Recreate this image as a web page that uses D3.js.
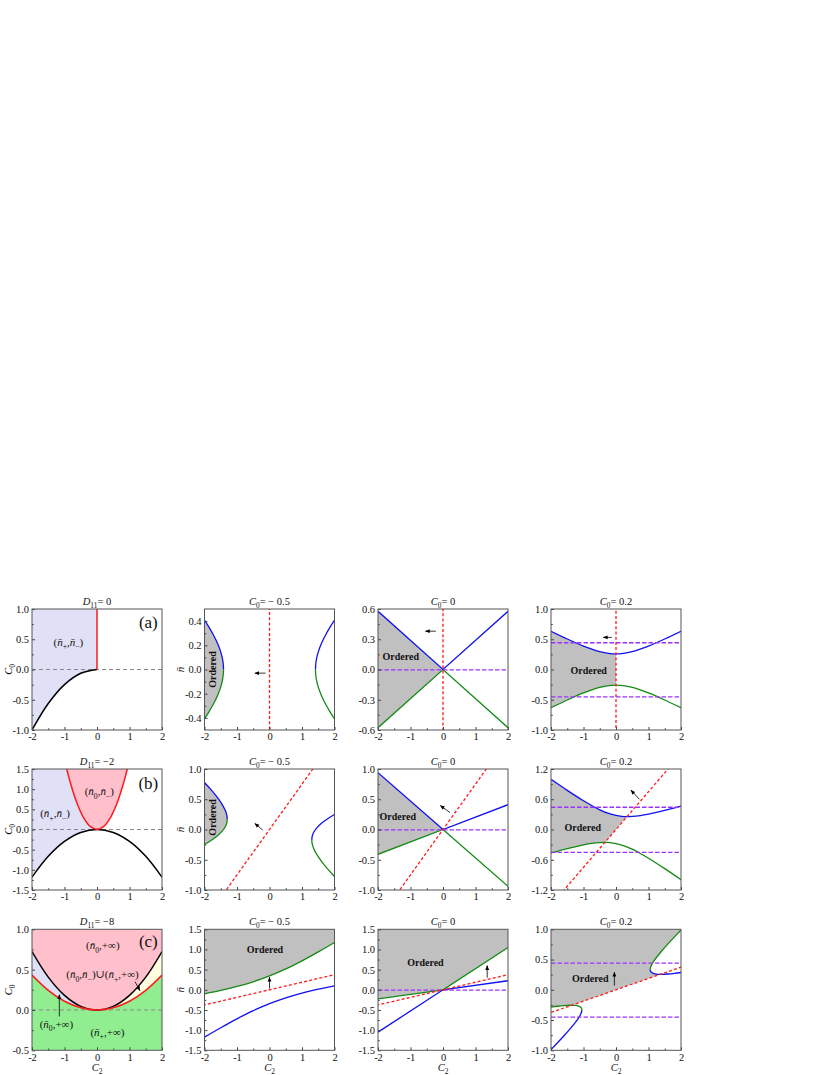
<!DOCTYPE html>
<html>
<head>
<meta charset="utf-8">
<script src="https://cdn.jsdelivr.net/npm/d3@7"></script>
<style>
  body { margin: 0; background: #fff; }
  svg { display: block; font-family: "Liberation Serif", "Times New Roman", "DejaVu Serif", serif; }
</style>
</head>
<body>
<svg id="fig" width="830" height="1075"></svg>
<script>
// ---- layout ----
const W = 130, H = 121;
const colX = [32, 204.5, 378, 551];
const rowY = [609, 769, 929.3];
const SERIF = '"Liberation Serif", "Times New Roman", "DejaVu Serif", serif';

// ---- shared axis values ----
const c2Ticks = [-2, -1, 0, 1, 2];
const c2Minor = [-1.5, -0.5, 0.5, 1.5];

// ---- left column: phase diagrams (C2, C0) ----
// (a) D11 = 0
const a_black = [[-2, -1], [-1.5, -0.5625], [-1, -0.25], [-0.5, -0.0625], [0, 0]];
const a_red = [[0, 0], [0, 1]];
// (b) D11 = -2
const b_black = [[-2, -1.182], [-1.5, -0.665], [-1, -0.296], [-0.5, -0.074], [0, 0], [0.5, -0.074], [1, -0.296], [1.5, -0.665], [2, -1.182]];
const b_red = [[-0.95, 1.556], [-0.8, 1.103], [-0.6, 0.621], [-0.4, 0.276], [-0.2, 0.069], [0, 0], [0.2, 0.069], [0.4, 0.276], [0.6, 0.621], [0.8, 1.103], [0.95, 1.556]];
// (c) D11 = -8
const c_black = [[-2, 0.724], [-1.5, 0.407], [-1, 0.181], [-0.5, 0.045], [0, 0], [0.5, 0.045], [1, 0.181], [1.5, 0.407], [2, 0.724]];
const c_red = [[-2, 0.432], [-1.5, 0.243], [-1, 0.108], [-0.5, 0.027], [0, 0], [0.5, 0.027], [1, 0.108], [1.5, 0.243], [2, 0.432]];

// ---- n-bar panels, row 1 (D11 = 0) ----
const r1c2_blueL = [[-2, 0.408], [-1.863, 0.35], [-1.755, 0.3], [-1.658, 0.25], [-1.575, 0.2], [-1.507, 0.15], [-1.456, 0.1], [-1.425, 0.05], [-1.414, 0]];
const r1c2_greenL = [[-1.414, 0], [-1.425, -0.05], [-1.456, -0.1], [-1.507, -0.15], [-1.575, -0.2], [-1.658, -0.25], [-1.755, -0.3], [-1.863, -0.35], [-2, -0.408]];
const r1c2_blueR = [[1.414, 0], [1.425, 0.05], [1.456, 0.1], [1.507, 0.15], [1.575, 0.2], [1.658, 0.25], [1.755, 0.3], [1.863, 0.35], [2, 0.408]];
const r1c2_greenR = [[1.414, 0], [1.425, -0.05], [1.456, -0.1], [1.507, -0.15], [1.575, -0.2], [1.658, -0.25], [1.755, -0.3], [1.863, -0.35], [2, -0.408]];
const r1c3_blue = [[-2, 0.577], [0, 0], [2, 0.577]];
const r1c3_green = [[-2, -0.577], [0, 0], [2, -0.577]];
const r1c4_blue = [[-2, 0.632], [-1.5, 0.504], [-1, 0.387], [-0.5, 0.296], [0, 0.258], [0.5, 0.296], [1, 0.387], [1.5, 0.504], [2, 0.632]];
const r1c4_green = [[-2, -0.632], [-1.5, -0.504], [-1, -0.387], [-0.5, -0.296], [0, -0.258], [0.5, -0.296], [1, -0.387], [1.5, -0.504], [2, -0.632]];

// ---- row 2 (D11 = -2) ----
const r2c2_blueL = [[-2, 0.777], [-1.8, 0.658], [-1.6, 0.526], [-1.45, 0.408], [-1.36, 0.314], [-1.32, 0.251], [-1.31, 0.226], [-1.301, 0.172]];
const r2c2_greenL = [[-1.301, 0.172], [-1.31, 0.121], [-1.32, 0.099], [-1.36, 0.046], [-1.45, -0.024], [-1.6, -0.103], [-1.8, -0.182], [-2, -0.248]];
const r2c2_blueR = [[1.301, -0.172], [1.31, -0.121], [1.32, -0.099], [1.36, -0.046], [1.45, 0.024], [1.6, 0.103], [1.8, 0.182], [2, 0.248]];
const r2c2_greenR = [[1.301, -0.172], [1.31, -0.226], [1.32, -0.251], [1.36, -0.314], [1.45, -0.408], [1.6, -0.526], [1.8, -0.658], [2, -0.777]];
const r2c3_blue = [[-2, 0.94], [0, 0], [2, 0.41]];
const r2c3_green = [[-2, -0.41], [0, 0], [2, -0.94]];
const r2c4_blue = [[-2, 0.995], [-1.5, 0.776], [-1, 0.569], [-0.75, 0.475], [-0.5, 0.391], [-0.25, 0.323], [0, 0.278], [0.25, 0.257], [0.5, 0.259], [0.75, 0.276], [1, 0.305], [1.5, 0.379], [2, 0.465]];
const r2c4_green = [[-2, -0.465], [-1.5, -0.379], [-1, -0.305], [-0.75, -0.276], [-0.5, -0.259], [-0.25, -0.257], [0, -0.278], [0.25, -0.323], [0.5, -0.391], [0.75, -0.475], [1, -0.569], [1.5, -0.776], [2, -0.995]];

// ---- row 3 (D11 = -8) ----
const r3c2_blue = [[-2, -1.174], [-1.5, -0.94], [-1, -0.719], [-0.5, -0.517], [0, -0.343], [0.5, -0.199], [1, -0.082], [1.5, 0.016], [2, 0.1]];
const r3c2_green = [[-2, -0.1], [-1.5, -0.016], [-1, 0.082], [-0.5, 0.199], [0, 0.343], [0.5, 0.517], [1, 0.719], [1.5, 0.94], [2, 1.174]];
const r3c3_blue = [[-2, -1.05], [0, 0], [2, 0.224]];
const r3c3_green = [[-2, -0.224], [0, 0], [2, 1.05]];
const r3c4_blueL = [[-2, -0.988], [-1.8, -0.875], [-1.6, -0.759], [-1.4, -0.637], [-1.25, -0.538], [-1.15, -0.463], [-1.08, -0.395], [-1.06, -0.366], [-1.051, -0.335]];
const r3c4_greenL = [[-1.051, -0.335], [-1.06, -0.309], [-1.08, -0.293], [-1.15, -0.27], [-1.25, -0.258], [-1.4, -0.255], [-1.6, -0.261], [-1.8, -0.272], [-2, -0.286]];
const r3c4_blueR = [[1.051, 0.335], [1.06, 0.309], [1.08, 0.293], [1.15, 0.27], [1.25, 0.258], [1.4, 0.255], [1.6, 0.261], [1.8, 0.272], [2, 0.286]];
const r3c4_greenR = [[1.051, 0.335], [1.06, 0.366], [1.08, 0.395], [1.15, 0.463], [1.25, 0.538], [1.4, 0.637], [1.6, 0.759], [1.8, 0.875], [2, 0.988]];

// red dashed boundary per row, purple levels per C0
const red_r1 = [[0, -2], [0, 2]];
const red_r2 = [[-3, -2.25], [3, 2.25]];
const red_r3 = [[-10, -1.875], [10, 1.875]];
const purple_c0_0 = [0];
const purple_c0_02 = [-0.447, 0.447];

// ---- colours ----
const BLUE = "#1010f0", GREEN = "#148a14", RED = "#ff1a1a", PURPLE = "#9933ff";
const GRAY = "#c0c0c0", LAV = "#e0e0f7", PINK = "#ffc0cb", LGREEN = "#90ee90", LYEL = "#ffffe0";

const svg = d3.select("#fig");
const defs = svg.append("defs");
defs.append("marker").attr("id", "ah")
  .attr("viewBox", "0 0 10 10").attr("refX", 9).attr("refY", 5)
  .attr("markerWidth", 6).attr("markerHeight", 6).attr("orient", "auto")
  .append("path").attr("d", "M0,1L10,5L0,9Z").attr("fill", "#000");

// rich text: parts = [[text, style]] ; style "i" italic, "s" subscript
function rich(sel, parts, fs) {
  let shift = 0;
  parts.forEach(([t, st]) => {
    const ts = sel.append("tspan").text(t);
    if (st.includes("i")) ts.attr("font-style", "italic");
    const sub = st.includes("s");
    if (sub) ts.attr("font-size", fs * 0.7);
    const target = sub ? fs * 0.3 : 0;
    if (target !== shift) { ts.attr("dy", target - shift); shift = target; }
  });
  return sel;
}

const NBAR = "n\u0304";
const T_C0 = (v) => [["C", "i"], ["0", "s"], ["= " + v, ""]];
const T_D11 = (v) => [["D", "i"], ["11", "s"], ["= " + v, ""]];

function axes(g, x, y, yTicks) {
  const yb = y.range()[0], xl = x.range()[0];
  const yMinor = d3.pairs(yTicks).map(([a, b]) => (a + b) / 2);
  g.append("g").attr("transform", `translate(0,${yb})`)
    .call(d3.axisBottom(x).tickValues(c2Ticks).tickSize(-3).tickPadding(3).tickFormat(d => String(d)));
  g.append("g").attr("transform", `translate(0,${yb})`)
    .call(d3.axisBottom(x).tickValues(c2Minor).tickSize(-1.8).tickFormat(""));
  g.append("g").attr("transform", `translate(${xl},0)`)
    .call(d3.axisLeft(y).tickValues(yTicks).tickSize(-3).tickPadding(3).tickFormat(d => d.toFixed(1)));
  g.append("g").attr("transform", `translate(${xl},0)`)
    .call(d3.axisLeft(y).tickValues(yMinor).tickSize(-1.8).tickFormat(""));
  g.selectAll(".domain").remove();
  g.selectAll(".tick line").attr("stroke", "#444");
  g.selectAll("g").attr("font-family", SERIF).attr("font-size", 10.5);
  g.selectAll(".tick text").attr("fill", "#111");
  g.append("rect").attr("x", xl).attr("y", y.range()[1]).attr("width", W).attr("height", H)
    .attr("fill", "none").attr("stroke", "#555").attr("stroke-width", 1);
}

function setup(row, col, yDomain) {
  const X0 = colX[col], Y0 = rowY[row];
  const x = d3.scaleLinear().domain([-2, 2]).range([X0, X0 + W]);
  const y = d3.scaleLinear().domain(yDomain).range([Y0 + H, Y0]);
  const id = "clip" + row + col;
  defs.append("clipPath").attr("id", id).append("rect")
    .attr("x", X0).attr("y", Y0).attr("width", W).attr("height", H);
  const g = svg.append("g");
  const plot = g.append("g").attr("clip-path", `url(#${id})`);
  return { x, y, g, plot, id, X0, Y0 };
}

function title(g, X0, Y0, parts) {
  rich(g.append("text").attr("x", X0 + W / 2).attr("y", Y0 - 4).attr("text-anchor", "middle")
    .attr("font-size", 10.5).attr("fill", "#111"), parts, 10.5);
}

function arrow(g, x, y, pts) {
  g.append("line").attr("x1", x(pts[0][0])).attr("y1", y(pts[0][1]))
    .attr("x2", x(pts[1][0])).attr("y2", y(pts[1][1]))
    .attr("stroke", "#000").attr("stroke-width", 0.8).attr("marker-end", "url(#ah)");
}

function label(g, x, y, at, parts, fs) {
  return rich(g.append("text").attr("x", x(at[0])).attr("y", y(at[1])).attr("text-anchor", "middle")
    .attr("dy", "0.35em").attr("font-size", fs).attr("fill", "#111"), parts, fs);
}

// =========== left column ===========
const phase = [
  { row: 0, yDomain: [-1, 1], yTicks: [-1, -0.5, 0, 0.5, 1], title: T_D11("0"), letter: "(a)", letterAt: [1.58, 0.78] },
  { row: 1, yDomain: [-1.5, 1.5], yTicks: [-1.5, -1, -0.5, 0, 0.5, 1, 1.5], title: T_D11("\u22122"), letter: "(b)", letterAt: [1.58, 1.14] },
  { row: 2, yDomain: [-0.5, 1], yTicks: [-0.5, 0, 0.5, 1], title: T_D11("\u22128"), letter: "(c)", letterAt: [1.58, 0.85] }
];

const LF = 11;
const pairLbl = (a, b) => [["(", ""], [NBAR, "i"], [a, "s"], [",", ""], [NBAR, "i"], [b, "s"], [")", ""]];
const infLbl = (a) => [["(", ""], [NBAR, "i"], [a, "s"], [",+\u221E)", ""]];

phase.forEach(p => {
  const { x, y, g, plot, X0, Y0 } = setup(p.row, 0, p.yDomain);
  const top = p.yDomain[1], bot = p.yDomain[0];
  const cr = d3.curveCatmullRom;
  const line = d3.line().x(d => x(d[0])).y(d => y(d[1])).curve(cr);
  const areaUp = (pts, fill) => plot.append("path").attr("fill", fill)
    .attr("d", d3.area().x(d => x(d[0])).y0(d => y(d[1])).y1(y(top)).curve(cr)(pts));
  const dashed0 = () => plot.append("line").attr("x1", x(-2)).attr("x2", x(2)).attr("y1", y(0)).attr("y2", y(0))
    .attr("stroke", "#888").attr("stroke-width", 1).attr("stroke-dasharray", "4,3");

  if (p.row === 0) {
    areaUp(a_black, LAV);
    dashed0();
    plot.append("path").attr("d", line(a_black)).attr("fill", "none").attr("stroke", "#000").attr("stroke-width", 1.5);
    plot.append("path").attr("d", d3.line().x(d => x(d[0])).y(d => y(d[1]))(a_red)).attr("stroke", RED).attr("stroke-width", 1.5);
    label(g, x, y, [-0.88, 0.46], pairLbl("+", "\u2212"), LF);
  } else if (p.row === 1) {
    areaUp(b_black.filter(d => d[0] <= 0), LAV);
    areaUp(b_red, PINK);
    dashed0();
    plot.append("path").attr("d", line(b_black)).attr("fill", "none").attr("stroke", "#000").attr("stroke-width", 1.5);
    plot.append("path").attr("d", line(b_red)).attr("fill", "none").attr("stroke", RED).attr("stroke-width", 1.5);
    label(g, x, y, [0.07, 0.94], pairLbl("0", "\u2212"), LF);
    label(g, x, y, [-1.29, 0.4], pairLbl("+", "\u2212"), LF);
  } else {
    const band = c_black.map((d, i) => [d[0], c_red[i][1], d[1]]);
    const bandArea = d3.area().x(d => x(d[0])).y0(d => y(d[1])).y1(d => y(d[2])).curve(cr);
    areaUp(c_black, PINK);
    plot.append("path").attr("fill", LGREEN)
      .attr("d", d3.area().x(d => x(d[0])).y0(y(bot)).y1(d => y(d[1])).curve(cr)(c_red));
    plot.append("path").attr("fill", LAV).attr("d", bandArea(band.filter(d => d[0] <= 0)));
    plot.append("path").attr("fill", LYEL).attr("d", bandArea(band.filter(d => d[0] >= 0)));
    dashed0();
    plot.append("path").attr("d", line(c_black)).attr("fill", "none").attr("stroke", "#000").attr("stroke-width", 1.5);
    plot.append("path").attr("d", line(c_red)).attr("fill", "none").attr("stroke", RED).attr("stroke-width", 1.5);
    label(g, x, y, [0.18, 0.8], infLbl("0"), LF);
    label(g, x, y, [0.17, 0.44], [["(", ""], [NBAR, "i"], ["0", "s"], [",", ""], [NBAR, "i"], ["\u2212", "s"], [")\u222A(", ""], [NBAR, "i"], ["+", "s"], [",+\u221E)", ""]], LF);
    label(g, x, y, [-1.25, -0.17], infLbl("0"), LF);
    label(g, x, y, [0.32, -0.27], infLbl("+"), LF);
    arrow(g, x, y, [[-1.16, -0.08], [-1.16, 0.19]]);
    arrow(g, x, y, [[1.17, 0.35], [1.32, 0.24]]);
  }
  g.append("text").attr("x", x(p.letterAt[0])).attr("y", y(p.letterAt[1])).attr("dy", "0.35em")
    .attr("text-anchor", "middle").attr("font-size", 17).attr("fill", "#111").text(p.letter);
  axes(g, x, y, p.yTicks);
  title(g, X0, Y0, p.title);
  rich(g.append("text").attr("transform", `translate(${X0 - 23},${Y0 + H / 2}) rotate(-90)`)
    .attr("text-anchor", "middle").attr("dy", "0.3em").attr("font-size", 10.5), [["C", "i"], ["0", "s"]], 10.5);
});

// =========== n-bar panels ===========
const panels = [
  { row: 0, col: 1, yDomain: [-0.5, 0.5], yTicks: [-0.4, -0.2, 0, 0.2, 0.4], title: T_C0("\u2212 0.5"), red: red_r1, purple: [],
    blue: [r1c2_blueL, r1c2_blueR], green: [r1c2_greenL, r1c2_greenR],
    fill: { type: "branch", pts: [...r1c2_blueL, ...r1c2_greenL.slice(1)] },
    ordered: [-1.74, 0], rot: true, arrow: [[-0.12, -0.03], [-0.45, -0.03]] },
  { row: 0, col: 2, yDomain: [-0.6, 0.6], yTicks: [-0.6, -0.3, 0, 0.3, 0.6], title: T_C0("0"), red: red_r1, purple: purple_c0_0, linear: true,
    blue: [r1c3_blue], green: [r1c3_green], fill: { type: "between", top: r1c3_blue, bot: r1c3_green },
    ordered: [-1.3, 0.125], arrow: [[-0.22, 0.38], [-0.54, 0.38]] },
  { row: 0, col: 3, yDomain: [-1, 1], yTicks: [-1, -0.5, 0, 0.5, 1], title: T_C0("0.2"), red: red_r1, purple: purple_c0_02,
    blue: [r1c4_blue], green: [r1c4_green], fill: { type: "between", top: r1c4_blue, bot: r1c4_green },
    ordered: [-0.84, -0.01], arrow: [[-0.13, 0.53], [-0.39, 0.53]] },

  { row: 1, col: 1, yDomain: [-1, 1], yTicks: [-1, -0.5, 0, 0.5, 1], title: T_C0("\u2212 0.5"), red: red_r2, purple: [],
    blue: [r2c2_blueL, r2c2_blueR], green: [r2c2_greenL, r2c2_greenR],
    fill: { type: "branch", pts: [...r2c2_blueL, ...r2c2_greenL.slice(1)] },
    ordered: [-1.74, 0.2], rot: true, arrow: [[-0.21, -0.01], [-0.45, 0.1]] },
  { row: 1, col: 2, yDomain: [-1, 1], yTicks: [-1, -0.5, 0, 0.5, 1], title: T_C0("0"), red: red_r2, purple: purple_c0_0, linear: true,
    blue: [r2c3_blue], green: [r2c3_green], fill: { type: "between", top: r2c3_blue, bot: r2c3_green },
    ordered: [-1.39, 0.22], arrow: [[0.215, 0.28], [-0.08, 0.395]] },
  { row: 1, col: 3, yDomain: [-1.2, 1.2], yTicks: [-1.2, -0.6, 0, 0.6, 1.2], title: T_C0("0.2"), red: red_r2, purple: purple_c0_02,
    blue: [r2c4_blue], green: [r2c4_green], fill: { type: "between", top: r2c4_blue, bot: r2c4_green },
    ordered: [-1.02, 0.04], arrow: [[0.72, 0.6], [0.46, 0.78]] },

  { row: 2, col: 1, yDomain: [-1.5, 1.5], yTicks: [-1.5, -1, -0.5, 0, 0.5, 1, 1.5], title: T_C0("\u2212 0.5"), red: red_r3, purple: [],
    blue: [r3c2_blue], green: [r3c2_green], fill: { type: "above", pts: r3c2_green },
    ordered: [-0.14, 1.0], arrow: [[0, 0.03], [0, 0.31]] },
  { row: 2, col: 2, yDomain: [-1.5, 1.5], yTicks: [-1.5, -1, -0.5, 0, 0.5, 1, 1.5], title: T_C0("0"), red: red_r3, purple: purple_c0_0, linear: true,
    blue: [r3c3_blue], green: [r3c3_green], fill: { type: "above", pts: r3c3_green },
    ordered: [-0.54, 0.67], arrow: [[1.36, 0.3], [1.36, 0.6]] },
  { row: 2, col: 3, yDomain: [-1, 1], yTicks: [-1, -0.5, 0, 0.5, 1], title: T_C0("0.2"), red: red_r3, purple: purple_c0_02,
    blue: [r3c4_blueL, r3c4_blueR], green: [r3c4_greenL, r3c4_greenR],
    fill: { type: "holes", holes: [[...r3c4_blueL, ...r3c4_greenL.slice(1)], [...r3c4_blueR.slice().reverse(), ...r3c4_greenR.slice(1)]] },
    ordered: [-0.79, 0.18], arrow: [[-0.05, 0.07], [-0.05, 0.29]] }
];

panels.forEach(p => {
  const { x, y, g, plot, id, X0, Y0 } = setup(p.row, p.col, p.yDomain);
  const curve = p.linear ? d3.curveLinear : d3.curveCatmullRom;
  const line = d3.line().x(d => x(d[0])).y(d => y(d[1])).curve(curve);
  const straight = d3.line().x(d => x(d[0])).y(d => y(d[1]));

  // ordered side of the red line (left / above)
  const r = p.red;
  const half = [r[0], r[1], [-10, r[1][1]], [-10, r[0][1]]];
  defs.append("clipPath").attr("id", id + "h").append("path").attr("d", straight(half) + "Z");
  const fg = plot.append("g").attr("clip-path", `url(#${id}h)`);
  let d;
  const f = p.fill;
  if (f.type === "between") {
    d = d3.area().x(q => x(q[0])).y0(q => y(q[1])).y1(q => y(q[2])).curve(curve)(f.bot.map((q, i) => [q[0], q[1], f.top[i][1]]));
  } else if (f.type === "branch") {
    d = line(f.pts) + `L${x(-2)},${y(f.pts[f.pts.length - 1][1])}L${x(-2)},${y(f.pts[0][1])}Z`;
  } else if (f.type === "above") {
    d = d3.area().x(q => x(q[0])).y0(q => y(q[1])).y1(y(p.yDomain[1])).curve(curve)(f.pts);
  } else {
    d = `M${X0},${Y0}H${X0 + W}V${Y0 + H}H${X0}Z` + f.holes.map(h => line(h) + "Z").join("");
  }
  fg.append("path").attr("d", d).attr("fill", GRAY).attr("fill-rule", "evenodd");

  p.green.forEach(s => plot.append("path").attr("d", line(s)).attr("fill", "none").attr("stroke", GREEN).attr("stroke-width", 1.3));
  p.blue.forEach(s => plot.append("path").attr("d", line(s)).attr("fill", "none").attr("stroke", BLUE).attr("stroke-width", 1.3));

  p.purple.forEach(v => plot.append("line").attr("x1", x(-2)).attr("x2", x(2)).attr("y1", y(v) + 0.3).attr("y2", y(v) + 0.3)
    .attr("stroke", PURPLE).attr("stroke-width", 1.3).attr("stroke-dasharray", "4.5,2"));
  plot.append("path").attr("d", straight(p.red)).attr("fill", "none")
    .attr("stroke", RED).attr("stroke-width", 1.3).attr("stroke-dasharray", "3,2.2");

  arrow(g, x, y, p.arrow);
  const t = g.append("text").attr("font-size", 10).attr("font-weight", "bold").attr("fill", "#111")
    .attr("text-anchor", "middle").text("Ordered");
  if (p.rot) t.attr("transform", `translate(${x(p.ordered[0])},${y(p.ordered[1])}) rotate(-90)`).attr("dy", "0.35em");
  else t.attr("x", x(p.ordered[0])).attr("y", y(p.ordered[1])).attr("dy", "0.35em");

  axes(g, x, y, p.yTicks);
  title(g, X0, Y0, p.title);
  if (p.col === 1) {
    g.append("text").attr("transform", `translate(${X0 - 24},${Y0 + H / 2}) rotate(-90)`)
      .attr("text-anchor", "middle").attr("dy", "0.3em").attr("font-size", 11).attr("font-style", "italic").text(NBAR);
  }
});

// x-axis titles under the bottom row
colX.forEach(X0 => {
  rich(svg.append("text").attr("x", X0 + W / 2).attr("y", rowY[2] + H + 21).attr("text-anchor", "middle")
    .attr("font-size", 10.5).attr("fill", "#111"), [["C", "i"], ["2", "s"]], 10.5);
});
</script>
</body>
</html>
